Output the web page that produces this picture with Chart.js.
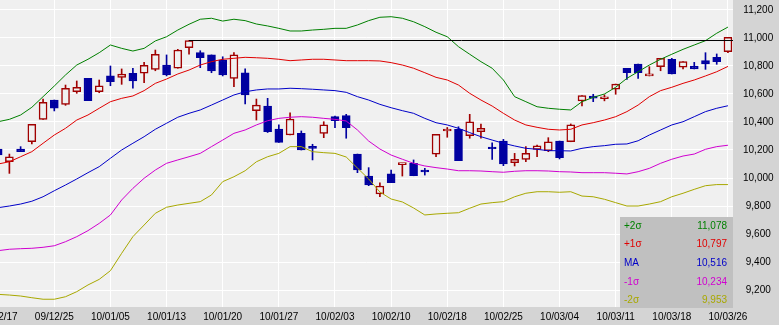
<!DOCTYPE html>
<html><head><meta charset="utf-8">
<script src="https://cdn.jsdelivr.net/npm/chart.js@4.4.0/dist/chart.umd.min.js"></script>
<style>html,body{margin:0;padding:0;background:#d4d4d4;overflow:hidden}</style>
</head><body>
<canvas id="c" width="779" height="325"></canvas>
<script>
// Trading dates (categories)
const dates = ['09/12/17','09/12/18','09/12/21','09/12/22','09/12/24','09/12/25','09/12/28','09/12/29','09/12/30','10/01/04',
'10/01/05','10/01/06','10/01/07','10/01/08','10/01/12','10/01/13','10/01/14','10/01/15','10/01/18','10/01/19',
'10/01/20','10/01/21','10/01/22','10/01/25','10/01/26','10/01/27','10/01/28','10/01/29','10/02/01','10/02/02',
'10/02/03','10/02/04','10/02/05','10/02/08','10/02/09','10/02/10','10/02/12','10/02/15','10/02/16','10/02/17',
'10/02/18','10/02/19','10/02/22','10/02/23','10/02/24','10/02/25','10/02/26','10/03/01','10/03/02','10/03/03',
'10/03/04','10/03/05','10/03/08','10/03/09','10/03/10','10/03/11','10/03/12','10/03/15','10/03/16','10/03/17',
'10/03/18','10/03/19','10/03/23','10/03/24','10/03/25','10/03/26'];

const open = [10207,10116,10207,10259,10419,10557,10526,10616,10712,10616,
10729,10719,10748,10748,10776,10807,10784,10931,10895,10879,
10843,10712,10752,10481,10514,10350,10307,10319,10219,10319,
10438,10445,10171,10014,9886,10029,10096,10105,10048,10171,
10336,10348,10302,10331,10214,10264,10109,10133,10205,10195,
10264,10259,10550,10579,10566,10634,10784,10814,10729,10795,
10848,10791,10800,10838,10862,10902];
const high = [10215,10171,10224,10383,10564,10557,10664,10693,10712,10700,
10800,10779,10784,10826,10914,10879,10919,10982,10909,10879,
10866,10895,10779,10564,10569,10379,10466,10336,10241,10402,
10443,10455,10171,10074,9966,10057,10105,10129,10069,10312,
10361,10366,10455,10386,10252,10276,10176,10224,10236,10288,
10264,10386,10588,10598,10594,10671,10784,10814,10795,10855,
10855,10831,10826,10895,10886,11005];
const low = [10160,10033,10188,10243,10419,10479,10519,10605,10552,10609,
10659,10669,10641,10681,10766,10729,10784,10884,10788,10752,
10729,10652,10529,10414,10325,10255,10307,10200,10129,10288,
10359,10284,10038,9945,9866,9966,10014,10016,10021,10152,
10291,10124,10284,10284,10133,10088,10086,10116,10152,10188,
10136,10259,10514,10545,10551,10598,10705,10712,10729,10766,
10743,10779,10779,10776,10812,10895];
const close = [10164,10152,10188,10383,10541,10498,10641,10648,10552,10659,
10688,10743,10693,10805,10883,10736,10914,10982,10859,10764,
10736,10879,10593,10521,10331,10255,10421,10200,10212,10379,
10409,10359,10057,9950,9943,9966,10100,10016,10043,10312,
10343,10124,10402,10355,10207,10100,10133,10176,10229,10259,
10145,10379,10588,10571,10571,10671,10752,10752,10732,10855,
10743,10831,10779,10814,10831,11005];

// Bollinger bands
const upper2 = [10402,10419,10450,10505,10581,10657,10736,10807,10848,10895,
10950,10926,10907,10926,10979,11009,11057,11098,11134,11141,
11121,11134,11124,11100,11086,11069,11050,11050,11057,11062,
11069,11069,11093,11124,11148,11152,11141,11116,11081,11041,
11009,10938,10884,10831,10784,10700,10581,10545,10509,10498,
10491,10486,10545,10576,10600,10648,10712,10759,10807,10848,
10884,10919,10950,10981,11034,11078];
const upper1 = [10100,10116,10152,10188,10248,10307,10355,10414,10450,10498,
10545,10569,10586,10624,10676,10707,10743,10771,10807,10831,
10848,10855,10862,10859,10855,10848,10838,10843,10848,10848,
10843,10838,10838,10838,10836,10824,10807,10784,10752,10719,
10700,10664,10605,10557,10514,10462,10414,10379,10362,10348,
10343,10348,10379,10395,10414,10438,10474,10521,10581,10624,
10648,10676,10700,10729,10759,10797];
const ma = [9788,9800,9814,9834,9866,9909,9950,9993,10038,10081,
10141,10200,10248,10295,10348,10391,10434,10462,10486,10521,
10557,10593,10616,10629,10636,10636,10641,10638,10634,10629,
10624,10612,10581,10557,10526,10502,10481,10462,10426,10395,
10379,10355,10324,10295,10271,10248,10229,10212,10205,10195,
10195,10193,10212,10224,10231,10241,10243,10266,10307,10343,
10379,10402,10438,10474,10498,10516];
const lower1 = [9481,9491,9495,9498,9505,9516,9545,9581,9624,9676,
9736,9843,9926,9998,10057,10105,10129,10152,10176,10224,
10271,10319,10343,10379,10409,10426,10434,10438,10434,10426,
10419,10407,10343,10264,10207,10164,10134,10105,10086,10074,
10064,10052,10052,10050,10045,10041,10048,10052,10052,10050,
10045,10043,10038,10038,10038,10034,10029,10045,10069,10105,
10134,10157,10171,10205,10224,10234];
const lower2 = [9169,9164,9157,9145,9134,9134,9152,9188,9236,9276,
9338,9462,9581,9664,9748,9791,9807,9819,9831,9879,
9974,10009,10052,10116,10152,10176,10224,10224,10188,10181,
10176,10150,10071,9993,9900,9850,9829,9786,9736,9743,
9748,9752,9784,9814,9824,9831,9866,9891,9902,9902,
9898,9902,9871,9866,9848,9824,9800,9800,9814,9831,
9866,9891,9919,9945,9953,9953];

// Horizontal high line
const resistanceLevel = 10982;
const resistanceFrom = 17;

// Tick labels
const yTicks = [9200,9400,9600,9800,10000,10200,10400,10600,10800,11000,11200];
const xTickIdx = [0,5,10,15,20,25,30,35,40,45,50,55,60,65];

const COL = {up:'#A00000', down:'#0000A0', u2:'#008000', u1:'#E00000', ma:'#0000C8', l1:'#D000D0', l2:'#A8A800', plot:'#F0F0F0', axis:'#D4D4D4', box:'#C0C0C0'};
const FONT = '"Liberation Sans", Arial, sans-serif';

const idx = dates.map((_, i) => i);
const isUp = i => close[i] >= open[i];
const pts = arr => arr.map((v, i) => ({x: i, y: v}));
const lineDs = (arr, c) => ({type:'line', data: pts(arr), borderColor: c, borderWidth: 1, pointRadius: 0, tension: 0, fill: false});

const bgPlugin = {
  id: 'bg',
  beforeDraw(chart) {
    const {ctx, chartArea: a} = chart;
    ctx.save();
    ctx.fillStyle = COL.axis; ctx.fillRect(0, 0, chart.width, chart.height);
    ctx.fillStyle = COL.plot; ctx.fillRect(a.left, a.top, a.right - a.left, a.bottom - a.top);
    ctx.restore();
  }
};
const legendRows = [
  {label:'+2σ', data: upper2, color: COL.u2},
  {label:'+1σ', data: upper1, color: COL.u1},
  {label:'MA', data: ma, color: COL.ma},
  {label:'-1σ', data: lower1, color: COL.l1},
  {label:'-2σ', data: lower2, color: COL.l2}
];
const legendPlugin = {
  id: 'bandLegend',
  afterDraw(chart) {
    const {ctx, chartArea: a} = chart;
    const L = a.right - 113, T = a.bottom - 90, R = a.right, B = a.bottom + 1;
    ctx.save();
    ctx.fillStyle = COL.box; ctx.fillRect(L, T, R - L, B - T);
    ctx.font = '10px ' + FONT; ctx.textBaseline = 'middle';
    legendRows.forEach((r, i) => {
      const y = T + 9 + i * 18.6;
      ctx.fillStyle = r.color;
      ctx.textAlign = 'left'; ctx.fillText(r.label, L + 4, y);
      ctx.textAlign = 'right'; ctx.fillText(r.data[r.data.length - 1].toLocaleString('en-US'), R - 6, y);
    });
    ctx.restore();
  }
};

new Chart(document.getElementById('c'), {
  type: 'bar',
  data: {
    datasets: [
      {type:'line', data: [{x: resistanceFrom, y: resistanceLevel}, {x: dates.length, y: resistanceLevel}], borderColor:'#000', borderWidth: 1, pointRadius: 0, fill: false},
      lineDs(upper2, COL.u2),
      lineDs(upper1, COL.u1),
      lineDs(ma, COL.ma),
      lineDs(lower1, COL.l1),
      lineDs(lower2, COL.l2),
      {
        data: idx.map(i => ({x: i, y: [open[i], close[i]]})),
        backgroundColor: idx.map(i => isUp(i) ? COL.plot : COL.down),
        borderColor: idx.map(i => isUp(i) ? COL.up : COL.down),
        borderWidth: 1.5, borderSkipped: false, barThickness: 8, minBarLength: 2, grouped: false
      },
      {
        data: idx.map(i => ({x: i, y: [low[i], high[i]]})),
        backgroundColor: idx.map(i => isUp(i) ? COL.up : COL.down),
        borderWidth: 0, barThickness: 1, grouped: false
      }
    ]
  },
  options: {
    responsive: false, animation: false, events: [],
    layout: {padding: 0},
    plugins: {legend: {display: false}, tooltip: {enabled: false}},
    scales: {
      x: {
        type: 'linear', position: 'bottom', min: 0.164, max: 65.45, offset: false,
        afterBuildTicks: s => { s.ticks = xTickIdx.map(v => ({value: v})); },
        afterFit: s => { s.height = 18; s.paddingLeft = 0; s.paddingRight = 0; },
        ticks: {autoSkip: false, maxRotation: 0, minRotation: 0, padding: 4, color: '#000',
          font: {family: FONT, size: 10}, callback: v => dates[v]},
        grid: {color: '#FFFFFF', lineWidth: 1, drawTicks: false, offset: false},
        border: {display: false}
      },
      y: {
        type: 'linear', position: 'right', min: 9078.6, max: 11271.4,
        afterBuildTicks: s => { s.ticks = yTicks.map(v => ({value: v})); },
        afterFit: s => { s.width = 46; s.paddingTop = 0; s.paddingBottom = 0; },
        ticks: {crossAlign: 'center', padding: 10, color: '#000', font: {family: FONT, size: 10},
          callback: v => v.toLocaleString('en-US')},
        grid: {color: '#FFFFFF', lineWidth: 1, drawTicks: false},
        border: {display: false}
      }
    }
  },
  plugins: [bgPlugin, legendPlugin]
});
</script>
</body></html>
